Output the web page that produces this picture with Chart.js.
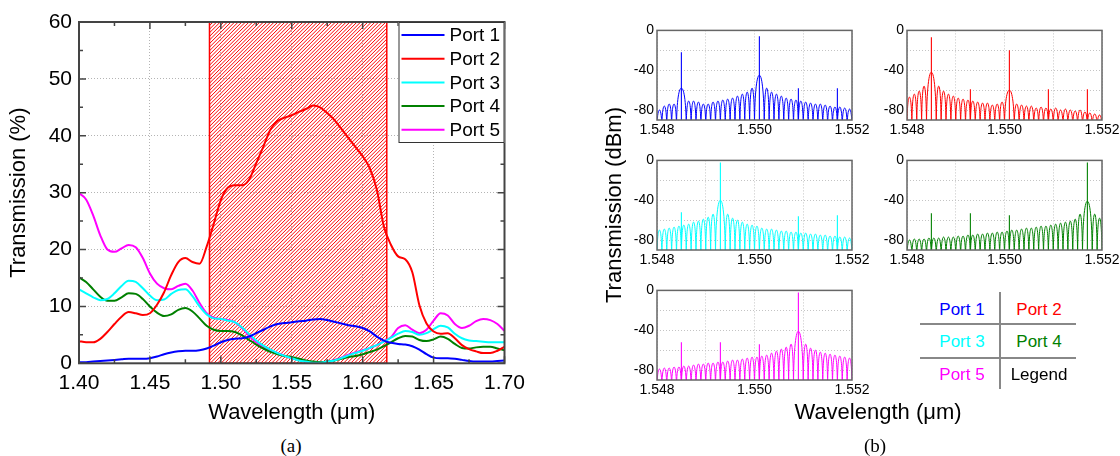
<!DOCTYPE html>
<html>
<head>
<meta charset="utf-8">
<script src="https://cdn.jsdelivr.net/npm/chart.js@4.4.0/dist/chart.umd.min.js"></script>
<style>
body { margin: 0; width: 1120px; height: 456px; background: #fff; position: relative; overflow: hidden;
       font-family: "Liberation Sans", Arial, sans-serif; color: #000; }
canvas { position: absolute; }
.t { position: absolute; white-space: nowrap; line-height: 1; transform: translate(-50%, -50%); }
.ln { position: absolute; background: #888; }
</style>
</head>
<body>
<canvas id="chartA" width="540" height="430" style="left:0;top:0"></canvas>
<canvas id="p1" width="265" height="121" style="left:617px;top:19px"></canvas>
<canvas id="p2" width="265" height="121" style="left:867px;top:19px"></canvas>
<canvas id="p3" width="265" height="121" style="left:617px;top:149px"></canvas>
<canvas id="p4" width="265" height="121" style="left:867px;top:149px"></canvas>
<canvas id="p5" width="265" height="121" style="left:617px;top:279px"></canvas>

<div class="t" style="left:614px;top:205px;font-size:22px;transform:translate(-50%,-50%) rotate(-90deg)">Transmission (dBm)</div>
<div class="t" style="left:878px;top:412px;font-size:22px">Wavelength (μm)</div>
<div class="t" style="left:291px;top:445px;font-size:19px;font-family:'Liberation Serif',serif">(a)</div>
<div class="t" style="left:875px;top:445px;font-size:19px;font-family:'Liberation Serif',serif">(b)</div>

<!-- legend table of panel (b) -->
<div class="ln" style="left:999px;top:292px;width:1.5px;height:97px"></div>
<div class="ln" style="left:920px;top:323px;width:156px;height:1.5px"></div>
<div class="ln" style="left:920px;top:357px;width:156px;height:1.5px"></div>
<div class="t" style="left:962px;top:309px;font-size:17px;color:#0000ff">Port 1</div>
<div class="t" style="left:1039px;top:309px;font-size:17px;color:#ff0000">Port 2</div>
<div class="t" style="left:962px;top:341px;font-size:17px;color:#00ffff">Port 3</div>
<div class="t" style="left:1039px;top:341px;font-size:17px;color:#008000">Port 4</div>
<div class="t" style="left:962px;top:374px;font-size:17px;color:#ff00ff">Port 5</div>
<div class="t" style="left:1039px;top:374px;font-size:17px">Legend</div>

<script>

// ---- panel (a): broadband transmission ----
const wlA = [1.400, 1.405, 1.410, 1.415, 1.420, 1.425, 1.430, 1.435, 1.440, 1.445,
             1.450, 1.455, 1.460, 1.465, 1.470, 1.475, 1.480, 1.485, 1.490, 1.495,
             1.500, 1.505, 1.510, 1.515, 1.520, 1.525, 1.530, 1.535, 1.540, 1.545,
             1.550, 1.555, 1.560, 1.565, 1.570, 1.575, 1.580, 1.585, 1.590, 1.595,
             1.600, 1.605, 1.610, 1.615, 1.620, 1.625, 1.630, 1.635, 1.640, 1.645,
             1.650, 1.655, 1.660, 1.665, 1.670, 1.675, 1.680, 1.685, 1.690, 1.695, 1.700];

const port1 = [0.2, 0.2, 0.3, 0.4, 0.5, 0.6, 0.7, 0.8, 0.8, 0.8,
               0.9, 1.2, 1.6, 1.9, 2.1, 2.2, 2.2, 2.3, 2.6, 3.1,
               3.7, 4.1, 4.3, 4.4, 4.7, 5.3, 5.9, 6.5, 6.9, 7.1,
               7.2, 7.4, 7.5, 7.7, 7.8, 7.6, 7.3, 7.0, 6.7, 6.5,
               6.2, 5.6, 4.7, 4.0, 3.6, 3.4, 3.3, 3.0, 2.4, 1.6,
               1.0, 0.9, 0.9, 0.8, 0.6, 0.4, 0.3, 0.3, 0.3, 0.4, 0.5];

const port2 = [3.9, 3.7, 3.7, 4.3, 5.5, 6.9, 8.2, 9.0, 8.8, 8.5,
               8.8, 10.3, 12.5, 15.5, 17.8, 18.5, 17.8, 17.5, 20.5, 24.5,
               28.7, 30.9, 31.3, 31.3, 32.3, 35.2, 38.1, 41.1, 42.6, 43.2,
               43.6, 44.2, 44.7, 45.3, 45.0, 44.0, 42.8, 41.2, 39.6, 38.0,
               36.4, 34.3, 30.5, 24.0, 20.8, 18.8, 18.3, 16.0, 10.2, 7.0,
               5.6, 5.2, 5.3, 4.4, 3.2, 2.5, 2.1, 1.8, 1.8, 2.2, 2.9];

const port3 = [13.0, 12.3, 11.6, 11.1, 11.3, 12.3, 13.6, 14.5, 14.3, 13.2,
               11.9, 11.1, 11.2, 12.2, 12.9, 13.0, 11.8, 10.0, 8.6, 7.9,
               7.8, 7.5, 7.2, 6.3, 5.1, 4.0, 3.1, 2.4, 1.8, 1.3,
               0.9, 0.5, 0.3, 0.1, 0.1, 0.3, 0.5, 0.9, 1.4, 1.8,
               2.2, 2.7, 3.2, 3.8, 4.5, 5.2, 5.7, 5.5, 5.0, 5.3,
               6.0, 6.6, 6.3, 5.2, 4.4, 4.0, 3.9, 3.8, 3.7, 3.7, 3.7];

const port4 = [15.1, 14.3, 13.0, 11.7, 11.0, 11.0, 11.6, 12.3, 12.2, 11.3,
               10.0, 8.9, 8.3, 8.6, 9.4, 9.7, 9.1, 7.9, 6.6, 5.9,
               5.7, 5.7, 5.5, 4.9, 4.1, 3.3, 2.6, 2.0, 1.6, 1.3,
               1.1, 0.8, 0.5, 0.3, 0.2, 0.3, 0.5, 0.8, 1.1, 1.3,
               1.6, 2.0, 2.4, 3.0, 3.7, 4.4, 4.8, 4.7, 4.1, 3.9,
               4.2, 4.7, 4.3, 3.4, 2.7, 2.6, 2.8, 2.9, 2.9, 2.6, 2.3];

const port5 = [29.9, 28.8, 26.0, 22.5, 20.0, 19.6, 20.2, 20.8, 20.4, 18.5,
               15.8, 14.0, 13.2, 13.0, 13.6, 14.0, 12.8, 10.6, 8.8, 8.0,
               7.8, 7.6, 7.2, 6.2, 4.8, 3.7, 2.9, 2.3, 1.8, 1.3,
               0.9, 0.6, 0.3, 0.1, 0.1, 0.3, 0.6, 1.0, 1.5, 1.9,
               2.3, 2.7, 3.2, 3.9, 4.6, 6.2, 6.7, 5.9, 5.3, 5.9,
               7.5, 8.8, 8.4, 6.9, 6.2, 6.6, 7.4, 7.8, 7.6, 6.9, 5.7];

const portNames = ["Port 1", "Port 2", "Port 3", "Port 4", "Port 5"];
const portColors = ["#0000ff", "#ff0000", "#00ffff", "#008000", "#ff00ff"];

// hatched pass band (um)
const band = [1.492, 1.617];

// ---- panel (b): fine spectra around 1.550 um ----
const FLOOR = -100; // spectral nulls, below the axis

const dbTicks = [-80, -60, -40, -20, 0];
const dbLabels = [0, -40, -80];
const nmTicks = [1.548, 1.549, 1.550, 1.551, 1.552];
const nmLabels = ["1.548", "", "1.550", "", "1.552"];

const nullX = [1.5480, 1.5481, 1.5482, 1.5483, 1.5484, 1.5485, 1.5486, 1.5487, 1.5488, 1.5489,
               1.5490, 1.5491, 1.5492, 1.5493, 1.5494, 1.5495, 1.5496, 1.5497, 1.5498, 1.5499,
               1.5500, 1.5501, 1.5502, 1.5503, 1.5504, 1.5505, 1.5506, 1.5507, 1.5508, 1.5509,
               1.5510, 1.5511, 1.5512, 1.5513, 1.5514, 1.5515, 1.5516, 1.5517, 1.5518, 1.5519, 1.5520];

const lobeX = [1.54805, 1.54815, 1.54825, 1.54835, 1.54845, 1.54855, 1.54865, 1.54875, 1.54885, 1.54895,
               1.54905, 1.54915, 1.54925, 1.54935, 1.54945, 1.54955, 1.54965, 1.54975, 1.54985, 1.54995,
               1.55005, 1.55015, 1.55025, 1.55035, 1.55045, 1.55055, 1.55065, 1.55075, 1.55085, 1.55095,
               1.55105, 1.55115, 1.55125, 1.55135, 1.55145, 1.55155, 1.55165, 1.55175, 1.55185, 1.55195];

// sidelobe peaks (dBm); null where a main lobe covers the slot
const lobes1 = [-80, -76, -74, -74, null, null, -71, -71, -72, -74,
                -74, -72, -71, -70, -69, -68, -66, -64, -62, -58,
                null, null, -58, -62, -64, -66, -68, -69, -70, -71,
                -72, -73, -74, -74, -75, -76, -77, -77, -78, -79];
const mains1 = [[1.5485, -58], [1.5501, -45]];
const spikes1 = [[1.5485, -22], [1.5501, -6], [1.5509, -58], [1.5517, -58]];

const lobes2 = [-67, -64, -61, -56, null, null, -56, -61, -64, -66,
                -68, -69, -70, -71, -72, -73, -73, -75, -74, -72,
                null, null, -74, -75, -76, -76, -78, -77, -78, -79,
                -78, -80, -79, -80, -81, -80, -82, -83, -84, -85];
const mains2 = [[1.5485, -42], [1.5501, -60]];
const spikes2 = [[1.5485, -7], [1.5493, -59], [1.5501, -20], [1.5509, -59], [1.5517, -59]];

const lobes3 = [-70, -69, -68, -67, -66, -65, -64, -62, -61, -59,
                -57, -54, null, null, -54, -58, -60, -62, -64, -65,
                -66, -68, -69, -69, -70, -71, -71, -72, -72, -73,
                -73, -74, -74, -75, -75, -76, -76, -77, -77, -78];
const mains3 = [[1.5493, -40]];
const spikes3 = [[1.5485, -52], [1.5493, -2], [1.5509, -56], [1.5517, -55]];

const lobes4 = [-80, -79, -79, -79, -78, -78, -78, -77, -77, -77,
                -76, -76, -75, -75, -74, -74, -73, -73, -72, -72,
                -71, -70, -70, -69, -68, -68, -67, -66, -66, -65,
                -64, -63, -62, -61, -59, -54, null, null, -54, -58];
const mains4 = [[1.5517, -41]];
const spikes4 = [[1.5485, -53], [1.5493, -53], [1.5501, -55], [1.5517, -2]];

const lobes5 = [-79, -78, -78, -77, -77, -76, -76, -75, -74, -74,
                -73, -73, -72, -72, -71, -70, -70, -69, -68, -67,
                -67, -66, -65, -63, -61, -59, -57, -54, null, null,
                -54, -58, -60, -62, -63, -64, -65, -66, -67, -68];
const mains5 = [[1.5509, -41]];
const spikes5 = [[1.5485, -52], [1.5493, -52], [1.5501, -54], [1.5509, -2]];


const bandPlugin = {
    id: "band",
    beforeDatasetsDraw(chart) {
        const { ctx, chartArea: a, scales: { x } } = chart;
        const x0 = x.getPixelForValue(band[0]);
        const x1 = x.getPixelForValue(band[1]);
        const h = a.bottom - a.top;
        ctx.save();
        ctx.beginPath();
        ctx.rect(x0, a.top, x1 - x0, h);
        ctx.clip();
        // diagonal hatch
        ctx.strokeStyle = "#ff0000";
        ctx.lineWidth = 1;
        ctx.beginPath();
        for (let s = x0 - h; s < x1; s += 3.6) {
            ctx.moveTo(s, a.bottom);
            ctx.lineTo(s + h, a.top);
        }
        ctx.stroke();
        ctx.restore();
        ctx.save();
        ctx.strokeStyle = "#ff0000";
        ctx.lineWidth = 1.5;
        ctx.strokeRect(x0, a.top, x1 - x0, h);
        ctx.restore();
    }
};

const frameA = {
    id: "frameA",
    afterDatasetsDraw(chart) {
        const { ctx, chartArea: a, scales: { x, y } } = chart;
        ctx.save();
        ctx.strokeStyle = "#444";
        ctx.lineWidth = 1.5;
        ctx.beginPath();
        // inward ticks on all four sides
        for (let i = 0; i <= 12; i++) {
            const px = x.getPixelForValue(1.40 + i * 0.025);
            const len = i % 2 === 0 ? 7 : 4;
            ctx.moveTo(px, a.bottom); ctx.lineTo(px, a.bottom - len);
            ctx.moveTo(px, a.top); ctx.lineTo(px, a.top + len);
        }
        for (let i = 0; i <= 12; i++) {
            const py = y.getPixelForValue(i * 5);
            const len = i % 2 === 0 ? 7 : 4;
            ctx.moveTo(a.left, py); ctx.lineTo(a.left + len, py);
            ctx.moveTo(a.right, py); ctx.lineTo(a.right - len, py);
        }
        ctx.stroke();
        ctx.lineWidth = 2;
        ctx.strokeRect(a.left, a.top, a.right - a.left, a.bottom - a.top);
        ctx.restore();
    },
    afterDraw(chart) {
        // legend box in the upper right corner
        const { ctx, chartArea: a } = chart;
        const bw = 106, bh = 121;
        const bx = a.right - bw, by = a.top;
        ctx.save();
        ctx.fillStyle = "#fff";
        ctx.fillRect(bx, by, bw, bh);
        ctx.strokeStyle = "#333";
        ctx.lineWidth = 1;
        ctx.strokeRect(bx + 0.5, by + 0.5, bw - 1, bh - 1);
        ctx.font = "19px 'Liberation Sans', Arial, sans-serif";
        ctx.textBaseline = "middle";
        chart.data.datasets.forEach((ds, i) => {
            const ly = by + 13 + i * 23.7;
            ctx.strokeStyle = ds.borderColor;
            ctx.lineWidth = 2;
            ctx.beginPath();
            ctx.moveTo(bx + 3, ly);
            ctx.lineTo(bx + 46, ly);
            ctx.stroke();
            ctx.fillStyle = "#000";
            ctx.fillText(ds.label, bx + 51, ly + 1);
        });
        ctx.restore();
    }
};

const portValues = [port1, port2, port3, port4, port5];

new Chart(document.getElementById("chartA"), {
    type: "line",
    data: {
        datasets: portValues.map((vals, i) => ({
            label: portNames[i],
            data: wlA.map((w, j) => ({ x: w, y: vals[j] })),
            borderColor: portColors[i],
            borderWidth: 2,
            pointRadius: 0,
            cubicInterpolationMode: "monotone"
        }))
    },
    options: {
        responsive: false,
        animation: false,
        devicePixelRatio: 1,
        layout: { padding: { top: 22, right: 35.5, left: 0, bottom: 0 } },
        plugins: { legend: { display: false }, tooltip: { enabled: false } },
        scales: {
            x: {
                type: "linear",
                min: 1.40,
                max: 1.70,
                afterFit: s => { s.height = 66.7; },
                ticks: {
                    stepSize: 0.05,
                    autoSkip: false,
                    maxRotation: 0,
                    padding: 7,
                    color: "#000",
                    font: { size: 21, family: "'Liberation Sans', Arial, sans-serif" },
                    callback: v => v.toFixed(2)
                },
                grid: { color: "#b4b4b4", drawTicks: false },
                border: { display: false, dash: [1, 2] },
                title: {
                    display: true,
                    text: "Wavelength (μm)",
                    color: "#000",
                    padding: { top: 4, bottom: 4 },
                    font: { size: 22, family: "'Liberation Sans', Arial, sans-serif" }
                }
            },
            y: {
                min: 0,
                max: 60,
                afterFit: s => { s.width = 79; },
                ticks: {
                    stepSize: 10,
                    padding: 7,
                    color: "#000",
                    font: { size: 21, family: "'Liberation Sans', Arial, sans-serif" }
                },
                grid: { color: "#b4b4b4", drawTicks: false },
                border: { display: false, dash: [1, 2] },
                title: {
                    display: true,
                    text: "Transmission (%)",
                    color: "#000",
                    padding: { top: 6, bottom: 6 },
                    font: { size: 22, family: "'Liberation Sans', Arial, sans-serif" }
                }
            }
        }
    },
    plugins: [bandPlugin, frameA]
});


function spectrum(lobes, mains) {
    const pts = [];
    nullX.forEach((x, i) => {
        const m = mains.find(p => p[0] === x);
        pts.push({ x: x, y: m ? m[1] : FLOOR });
        if (i < lobeX.length && lobes[i] !== null) pts.push({ x: lobeX[i], y: lobes[i] });
    });
    return pts;
}

function spikeLines(spikes) {
    const pts = [];
    spikes.forEach(s => {
        pts.push({ x: s[0], y: FLOOR }, { x: s[0], y: s[1] }, { x: s[0], y: null });
    });
    return pts;
}

// draws the spectrum line as arches: steep at each null, flat at each peak
const archPlugin = {
    id: "arches",
    beforeDatasetDraw(chart, args) {
        const ds = chart.data.datasets[args.index];
        if (!ds.arches) return;
        const pts = args.meta.data;
        const { ctx, chartArea: a } = chart;
        ctx.save();
        ctx.beginPath();
        ctx.rect(a.left, a.top, a.right - a.left, a.bottom - a.top);
        ctx.clip();
        ctx.strokeStyle = ds.borderColor;
        ctx.lineWidth = ds.borderWidth;
        ctx.lineJoin = "round";
        ctx.beginPath();
        ctx.moveTo(pts[0].x, pts[0].y);
        for (let i = 1; i < pts.length; i++) {
            const p0 = pts[i - 1], p1 = pts[i];
            if (p1.y < p0.y) {
                ctx.bezierCurveTo(p0.x, p0.y + (p1.y - p0.y) * 0.6,
                                  p1.x - (p1.x - p0.x) * 0.6, p1.y, p1.x, p1.y);
            } else {
                ctx.bezierCurveTo(p0.x + (p1.x - p0.x) * 0.6, p0.y,
                                  p1.x, p1.y - (p1.y - p0.y) * 0.6, p1.x, p1.y);
            }
        }
        ctx.stroke();
        ctx.restore();
        return false;
    }
};

const frameMini = {
    id: "frameMini",
    afterDatasetsDraw(chart) {
        const { ctx, chartArea: a } = chart;
        ctx.save();
        ctx.strokeStyle = "#666";
        ctx.lineWidth = 1.5;
        ctx.strokeRect(a.left, a.top, a.right - a.left, a.bottom - a.top);
        ctx.restore();
    }
};

function miniChart(id, color, lobes, mains, spikes) {
    new Chart(document.getElementById(id), {
        type: "line",
        data: {
            datasets: [
                { data: spectrum(lobes, mains), borderColor: color, borderWidth: 1,
                  pointRadius: 0, arches: true },
                { data: spikeLines(spikes), borderColor: color, borderWidth: 1.1,
                  pointRadius: 0, tension: 0, spanGaps: false }
            ]
        },
        options: {
            responsive: false,
            animation: false,
            devicePixelRatio: 1,
            layout: { padding: { top: 10, right: 30, left: 0, bottom: 0 } },
            plugins: { legend: { display: false }, tooltip: { enabled: false } },
            scales: {
                x: {
                    type: "linear",
                    min: 1.548,
                    max: 1.552,
                    afterFit: s => { s.height = 20; },
                    afterBuildTicks: s => { s.ticks = nmTicks.map(v => ({ value: v })); },
                    ticks: {
                        autoSkip: false,
                        maxRotation: 0,
                        padding: 2,
                        color: "#000",
                        font: { size: 14, family: "'Liberation Sans', Arial, sans-serif" },
                        callback: (v, i) => nmLabels[i]
                    },
                    grid: { color: "#c4c4c4", drawTicks: false },
                    border: { display: false, dash: [1, 2] }
                },
                y: {
                    min: -90,
                    max: 0,
                    afterFit: s => { s.width = 40; },
                    afterBuildTicks: s => { s.ticks = dbTicks.map(v => ({ value: v })); },
                    ticks: {
                        autoSkip: false,
                        padding: 3,
                        color: "#000",
                        font: { size: 14, family: "'Liberation Sans', Arial, sans-serif" },
                        callback: v => dbLabels.includes(v) ? String(v) : ""
                    },
                    grid: { color: "#c4c4c4", drawTicks: false },
                    border: { display: false, dash: [1, 2] }
                }
            }
        },
        plugins: [archPlugin, frameMini]
    });
}

miniChart("p1", portColors[0], lobes1, mains1, spikes1);
miniChart("p2", portColors[1], lobes2, mains2, spikes2);
miniChart("p3", portColors[2], lobes3, mains3, spikes3);
miniChart("p4", portColors[3], lobes4, mains4, spikes4);
miniChart("p5", portColors[4], lobes5, mains5, spikes5);

</script>
</body>
</html>
